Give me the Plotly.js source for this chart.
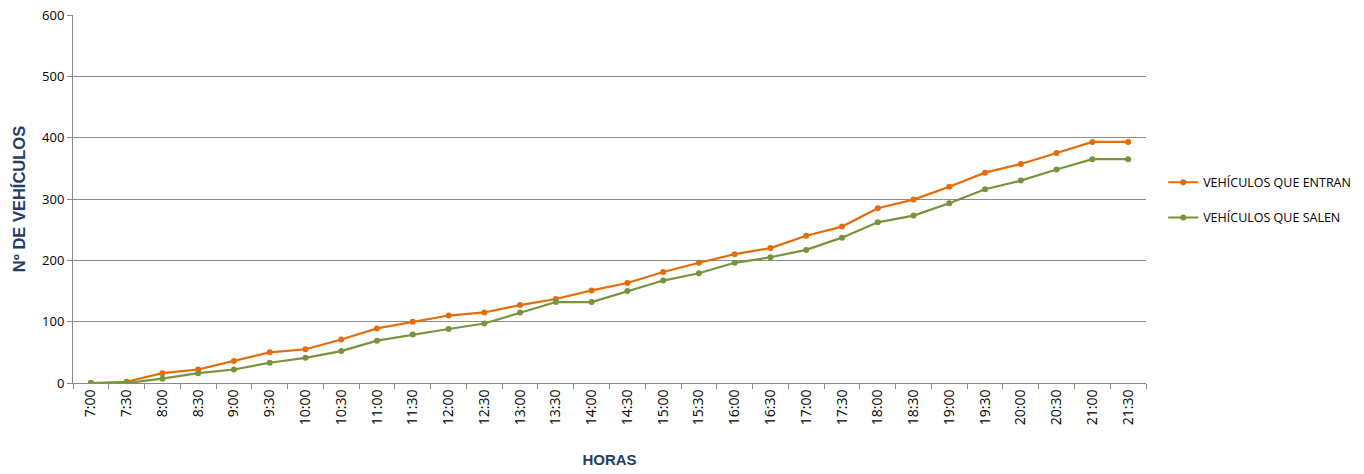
<!DOCTYPE html>
<html>
<head>
<meta charset="utf-8">
<script src="https://cdn.plot.ly/plotly-3.0.1.min.js"></script>
<style>html,body{margin:0;padding:0;background:#fff;}#chart{width:1364px;height:474px;}</style>
</head>
<body>
<div id="chart"></div>
<script>
const horas = ["7:00","7:30","8:00","8:30","9:00","9:30","10:00","10:30","11:00","11:30","12:00","12:30","13:00","13:30","14:00","14:30","15:00","15:30","16:00","16:30","17:00","17:30","18:00","18:30","19:00","19:30","20:00","20:30","21:00","21:30"];
const entran = [0,2,16,22,36,50,55,71,89,100,110,115,127,137,151,163,181,196,210,220,240,255,285,299,320,343,357,375,393,393];
const salen  = [0,0,7,16,22,33,41,52,69,79,88,97,115,132,132,150,167,179,196,205,217,237,262,273,293,316,330,348,365,365];
const yTicks = [0,100,200,300,400,500,600];

const traces = [
  {x: horas, y: entran, type: "scatter", mode: "lines+markers", name: "VEHÍCULOS QUE ENTRAN", legendgroup: "a",
   line: {color: "#E46C0A", width: 2.2}, marker: {color: "#E46C0A", size: 6}},
  {x: horas, y: salen, type: "scatter", mode: "lines+markers", name: "VEHÍCULOS QUE SALEN", legendgroup: "b",
   line: {color: "#77933C", width: 2.2}, marker: {color: "#77933C", size: 6}}
];

const titleFont = {size: 16.5, color: "#1F3D66", family: "Liberation Sans Narrow, Liberation Sans, sans-serif", weight: "bold"};

const layout = {
  width: 1364, height: 474,
  margin: {l: 73, r: 218, t: 15, b: 91, autoexpand: false},
  paper_bgcolor: "#fff", plot_bgcolor: "#fff",
  font: {family: "Open Sans, Liberation Sans, sans-serif", color: "#000", size: 12},
  xaxis: {
    type: "category", categoryorder: "array", categoryarray: horas,
    range: [-0.5, 29.5], tickangle: -90, tickson: "boundaries",
    ticks: "outside", ticklen: 5, tickcolor: "#888", showline: true, linecolor: "#888", linewidth: 1,
    showgrid: false, tickfont: {size: 14, family: "Open Sans, sans-serif"},
    title: {text: "HORAS", font: Object.assign({}, titleFont, {size: 15}), standoff: 30}
  },
  yaxis: {
    range: [0, 600], tickvals: yTicks, ticks: "outside", ticklen: 5, tickcolor: "#888",
    showline: true, linecolor: "#888", linewidth: 1, gridcolor: "#8c8c8c", gridwidth: 1,
    zeroline: false, tickfont: {size: 13, family: "Open Sans, sans-serif"},
    title: {text: "Nº DE VEHÍCULOS", font: titleFont, standoff: 12}
  },
  legend: {x: 1.016, xanchor: "left", y: 0.497, yanchor: "middle", font: {size: 12.5, family: "Open Sans, sans-serif"},
           itemwidth: 30, traceorder: "grouped", tracegroupgap: 16, bgcolor: "rgba(0,0,0,0)"},
  showlegend: true
};

Plotly.newPlot("chart", traces, layout, {displayModeBar: false, staticPlot: true});
</script>
</body>
</html>
